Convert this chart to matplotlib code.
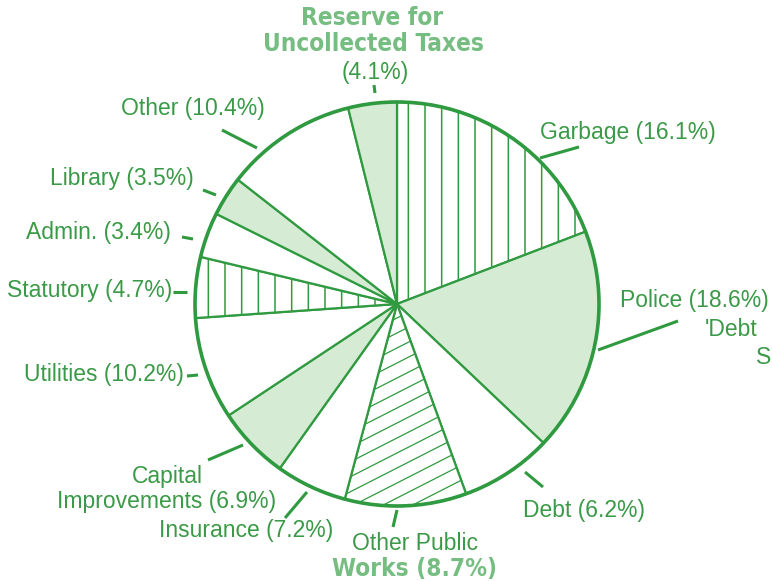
import numpy as np
import matplotlib
matplotlib.use('Agg')
import matplotlib.pyplot as plt
from matplotlib import font_manager
from matplotlib.font_manager import FontProperties
from matplotlib.patches import Circle

W, H = 772, 581

categories = ['Garbage', 'Police', 'Debt', 'Other Public Works', 'Insurance',
              'Capital Improvements', 'Utilities', 'Statutory', 'Admin.',
              'Library', 'Other', 'Reserve for Uncollected Taxes']
percents = [16.1, 18.6, 6.2, 8.7, 7.2, 6.9, 10.2, 4.7, 3.4, 3.5, 10.4, 4.1]
# arc of each slice as it is drawn in the original (degrees)
drawn_degrees = [69, 64.5, 26.5, 35, 20.5, 21, 29.5, 17.5, 13, 11.5, 38, 14]

fills = ['vhatch', 'shade', 'white', 'dhatch', 'white', 'shade',
         'white', 'vhatch', 'white', 'shade', 'white', 'shade']

GREEN = '#2f9a40'
TEXT = '#3a9a47'
LIGHT = '#76bd82'
SHADE = '#d6ebd4'

# a condensed bold face for the two heavier labels, if one is installed
cond = None
for key in ['LiberationSansNarrow-Bold', 'DejaVuSansCondensed-Bold',
            'RobotoCondensed-Bold', 'OpenSans_Condensed-Bold', 'OpenSansCondensed-Bold']:
    for f in font_manager.fontManager.ttflist:
        if key.lower() in f.fname.lower().replace(' ', ''):
            cond = f.fname
            break
    if cond:
        break

plt.rcParams['font.family'] = ['Liberation Sans', 'DejaVu Sans']
plt.rcParams['hatch.linewidth'] = 1.1

fig = plt.figure(figsize=(W / 100, H / 100), dpi=100)
ax = fig.add_axes([0, 0, 1, 1])

cx, cy, R = 397, H - 304, 202
wedges, _ = ax.pie(drawn_degrees, startangle=90, counterclock=False,
                   center=(cx, cy), radius=R, frame=True,
                   wedgeprops=dict(edgecolor=GREEN, linewidth=1.6))

for w, f in zip(wedges, fills):
    if f == 'shade':
        w.set_facecolor(SHADE)
    elif f == 'vhatch':
        w.set_facecolor('white')
        w.set_hatch('|')
    else:
        w.set_facecolor('white')

# shallow diagonal hatch for Other Public Works
opw = wedges[fills.index('dhatch')]
slope = np.tan(np.radians(27))
xs = np.array([cx - R, cx + R])
for b in np.arange(cy - 2 * R, cy + 2 * R, 15):
    ln, = ax.plot(xs, b + slope * (xs - cx), color=GREEN, lw=0.9)
    ln.set_clip_path(opw)

ax.add_patch(Circle((cx, cy), R, fill=False, ec=GREEN, lw=2.6))

ax.set_xlim(0, W)
ax.set_ylim(0, H)
ax.set_aspect('auto')
ax.axis('off')


def img(x, y):
    return x, H - y


fs = 16.5
if cond:
    heavy = dict(fontproperties=FontProperties(fname=cond, size=fs + 1))
else:
    heavy = dict(fontsize=fs - 1, weight='bold')

labels = [f'{n} ({p}%)' for n, p in zip(categories, percents)]

# label layout: (x, y, ha) in image pixels
layout = {
    'Garbage': (540, 132, 'left'),
    'Police': (620, 300, 'left'),
    'Debt': (523, 510, 'left'),
    'Insurance': (333, 530, 'right'),
    'Utilities': (184, 375, 'right'),
    'Statutory': (172, 290, 'right'),
    'Admin.': (171, 232, 'right'),
    'Library': (194, 178, 'right'),
    'Other': (265, 108, 'right'),
}
for name, lab in zip(categories, labels):
    if name in layout:
        x, y, ha = layout[name]
        ax.text(*img(x, y), lab, ha=ha, va='center', fontsize=fs, color=TEXT)

i = categories.index('Capital Improvements')
ax.text(*img(167, 489), f'Capital\nImprovements ({percents[i]}%)', ha='center',
        va='center', fontsize=fs, color=TEXT, linespacing=1.1)

i = categories.index('Other Public Works')
ax.text(*img(415, 544), 'Other Public', ha='center', va='center',
        fontsize=fs, color=TEXT)
ax.text(*img(415, 569), f'Works ({percents[i]}%)', ha='center', va='center',
        color=LIGHT, **heavy)

i = categories.index('Reserve for Uncollected Taxes')
ax.text(*img(372, 18), 'Reserve for', ha='center', va='center',
        color=LIGHT, **heavy)
ax.text(*img(373, 44), 'Uncollected Taxes', ha='center', va='center',
        color=LIGHT, **heavy)
ax.text(*img(375, 72), f'({percents[i]}%)', ha='center', va='center',
        fontsize=fs, color=TEXT)

# fragments of a neighbouring label at the right edge of the scan
ax.text(*img(705, 330), "'Debt", ha='left', va='center', fontsize=fs, color=TEXT)
ax.text(*img(756, 357), 'S', ha='left', va='center', fontsize=fs, color=TEXT)

# leader lines (image pixels)
leaders = [
    ((374, 85), (375, 93)),
    ((540, 158), (579, 147)),
    ((598, 350), (678, 321)),
    ((525, 472), (543, 487)),
    ((397, 510), (393, 527)),
    ((307, 492), (285, 518)),
    ((243, 445), (208, 460)),
    ((187, 376), (198, 375)),
    ((173, 292), (187, 292)),
    ((182, 237), (193, 239)),
    ((203, 190), (216, 195)),
    ((222, 130), (257, 148)),
]
for (x0, y0), (x1, y1) in leaders:
    ax.plot([x0, x1], [H - y0, H - y1], color=GREEN, lw=2.2,
            solid_capstyle='butt')

fig.savefig('out.png', dpi=100, facecolor='white')
